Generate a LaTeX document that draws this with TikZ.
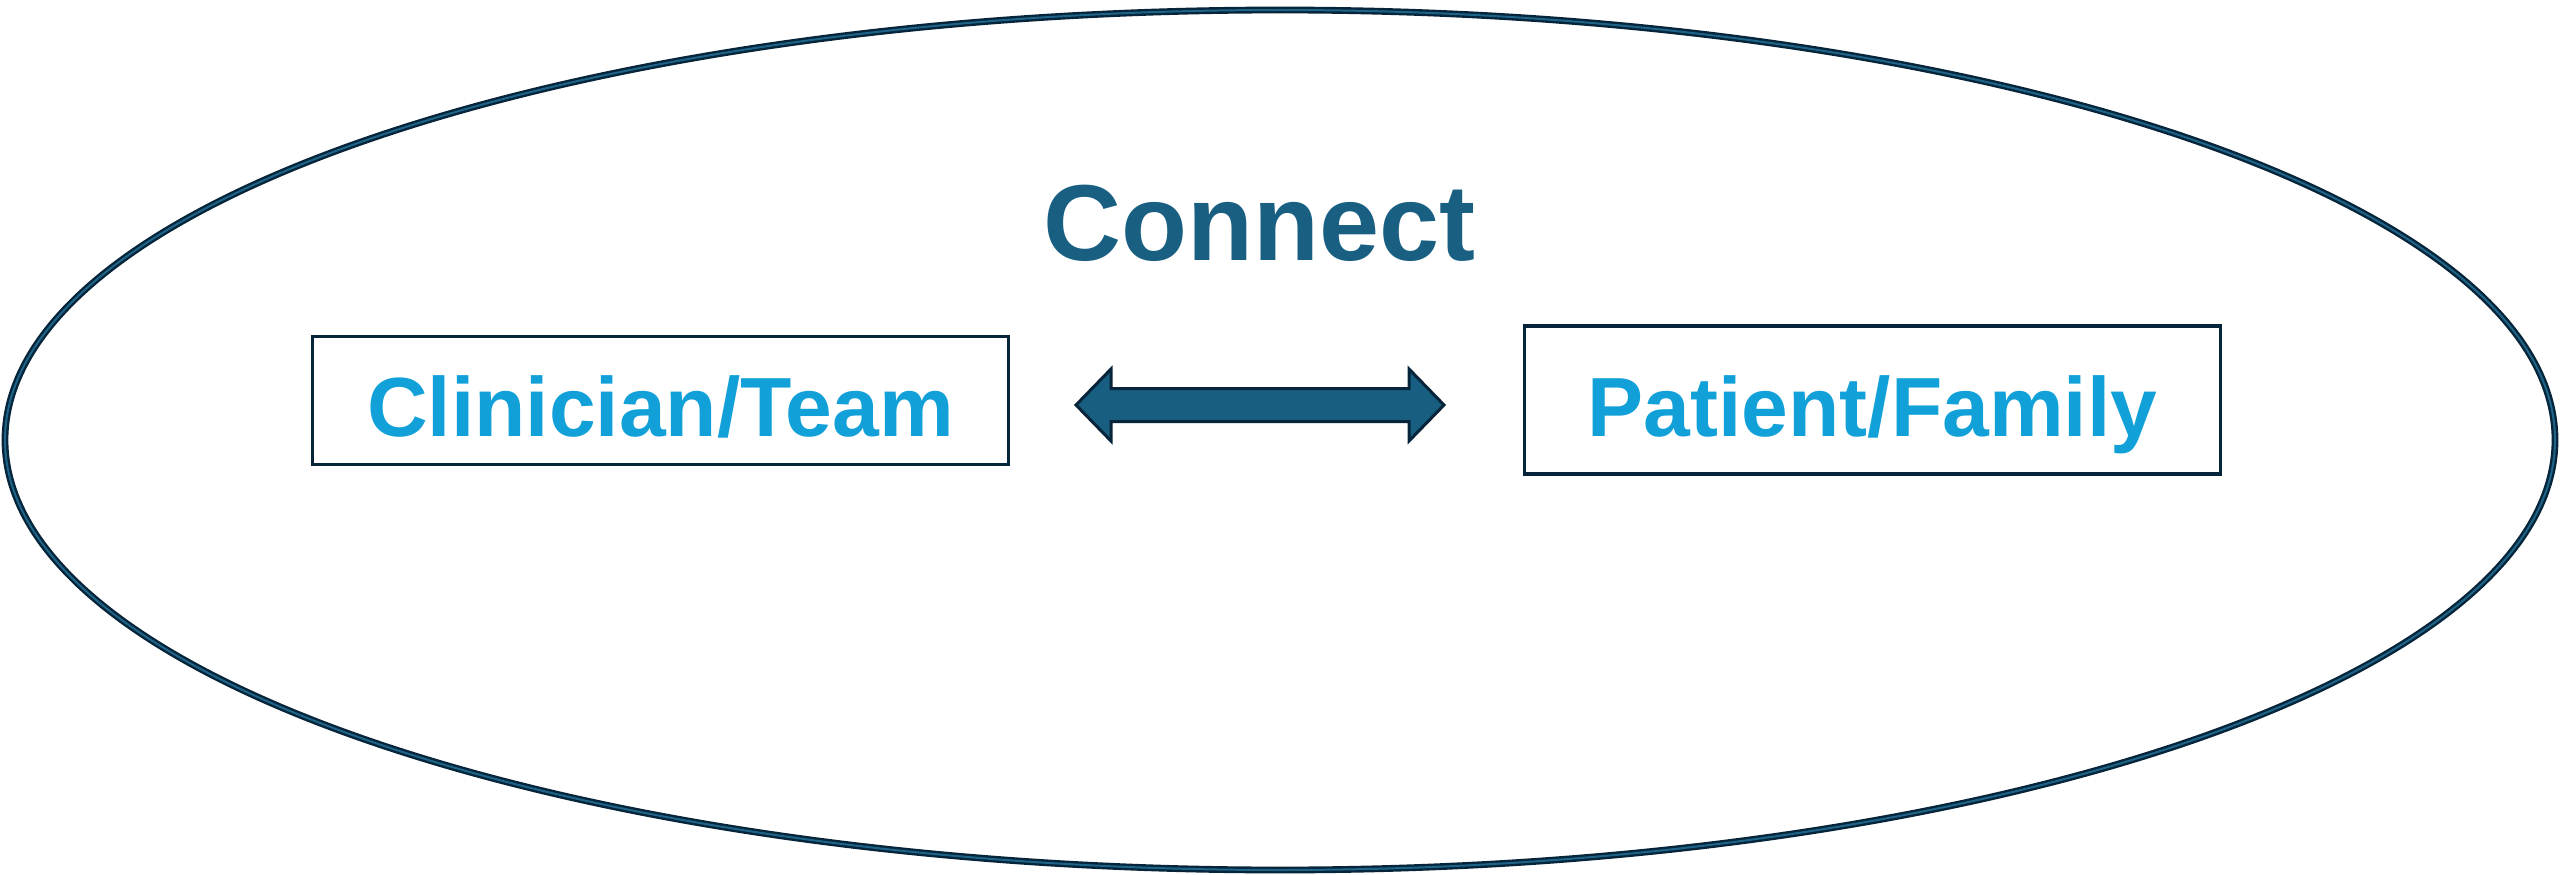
\documentclass[tikz,border=0pt]{standalone}
\usepackage{fontspec}
\setmainfont{Liberation Sans}
\usetikzlibrary{calc}
\definecolor{navy}{HTML}{06253A}
\definecolor{ringblue}{HTML}{1D6488}
\definecolor{connectc}{HTML}{185F82}
\definecolor{arrowfill}{HTML}{175E80}
\definecolor{boxtext}{HTML}{11A0D8}
\begin{document}
\begin{tikzpicture}[x=1pt,y=-1pt,
  ring/.style={draw=navy, line width=2.4pt, double=ringblue, double distance=2pt},
  labelbox/.style={draw=navy, line width=3.3pt, text=boxtext,
    font=\fontsize{84}{100}\selectfont\bfseries,
    text height=72pt, text depth=0pt, inner sep=0pt, minimum width=695.8pt},
  title/.style={text=connectc, font=\fontsize{108}{120}\selectfont\bfseries, anchor=base, inner sep=0pt},
  blockarrow/.style={draw=navy, line width=3pt, fill=arrowfill, line join=miter}]
\useasboundingbox (0,0) rectangle (2560,875);
\draw[ring] (1280,440) ellipse [x radius=1275, y radius=430];
\node[title] (connect) at (1259.5,260) {Connect};
\node[labelbox, minimum height=127.8pt] (clin) at (660.5,400.5) {Clinician/Team};
\node[labelbox, minimum height=147.8pt] (pat) at (1872.5,400) {Patient/Family};
\coordinate (mid) at (1260,405);
\draw[blockarrow] ($(mid)+(-184,0)$) -- ($(mid)+(-149,-36)$) -- ($(mid)+(-149,-16.5)$)
  -- ($(mid)+(149,-16.5)$) -- ($(mid)+(149,-36)$) -- ($(mid)+(184,0)$)
  -- ($(mid)+(149,36)$) -- ($(mid)+(149,16.5)$) -- ($(mid)+(-149,16.5)$)
  -- ($(mid)+(-149,36)$) -- cycle;
\end{tikzpicture}
\end{document}
